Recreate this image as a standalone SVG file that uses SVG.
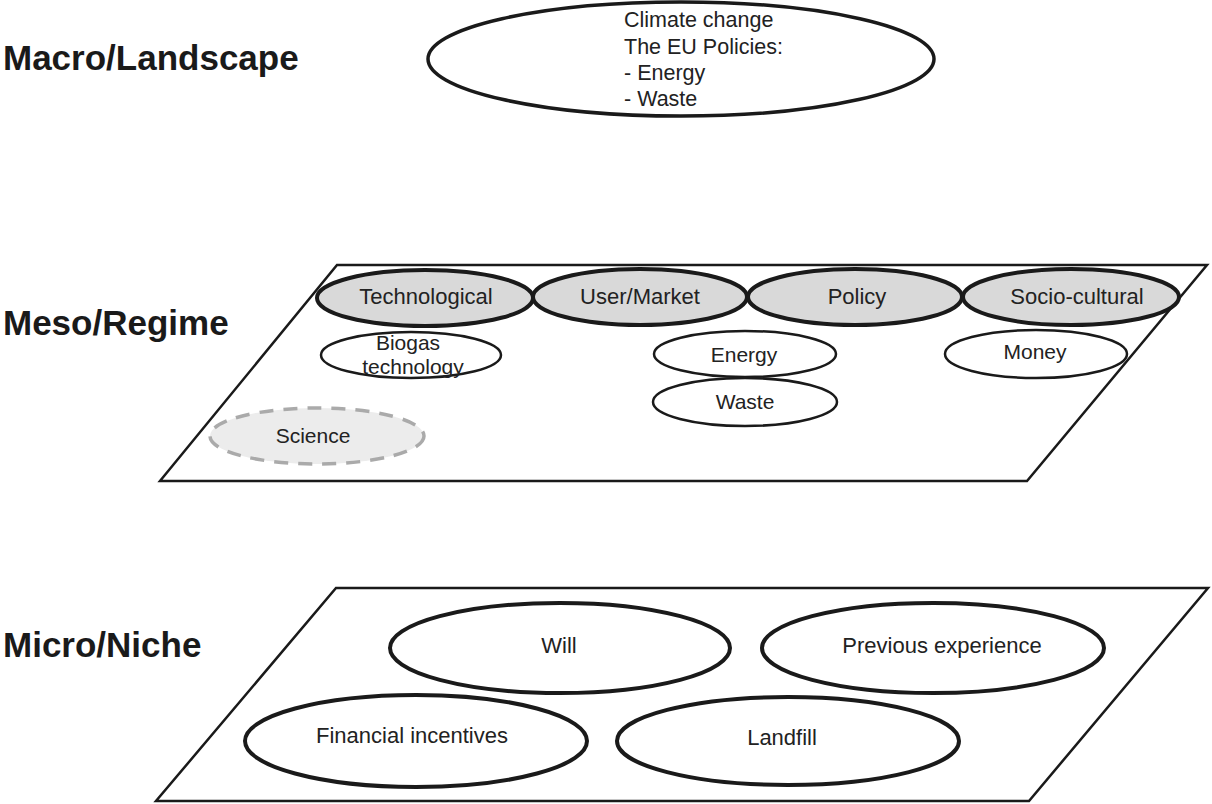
<svg xmlns="http://www.w3.org/2000/svg" width="1212" height="804" viewBox="0 0 1212 804">
<style>
  text { font-family: "Liberation Sans", Arial, sans-serif; fill: #222; }
  .lvl { font-size: 35px; font-weight: bold; fill: #1a1a1a; }
  .t { font-size: 21px; text-anchor: middle; }
  .tc { font-size: 22px; text-anchor: middle; }
  .tm { font-size: 22px; text-anchor: middle; }
  .plane { fill: #fff; stroke: #1a1a1a; stroke-width: 2.5; }
  .cat { fill: #d9d9d9; stroke: #1a1a1a; stroke-width: 4; }
  .sub { fill: none; stroke: #1a1a1a; stroke-width: 2.5; }
  .mic { fill: #fff; stroke: #1a1a1a; stroke-width: 4; }
  .sci { fill: #ececec; stroke: #aaaaaa; stroke-width: 3.5; stroke-dasharray: 14 10; }
</style>
<rect width="1212" height="804" fill="#fff"/>

<g id="labels">
  <text class="lvl" x="3" y="70">Macro/Landscape</text>
  <text class="lvl" x="3" y="335">Meso/Regime</text>
  <text class="lvl" x="3" y="657">Micro/Niche</text>
</g>

<g id="macro">
  <ellipse cx="681" cy="59" rx="253" ry="57" fill="#fff" stroke="#1a1a1a" stroke-width="3.5"/>
  <text x="624" y="27" font-size="21.5">Climate change</text>
  <text x="624" y="54" font-size="21.5">The EU Policies:</text>
  <text x="624" y="80" font-size="21.5">- Energy</text>
  <text x="624" y="106" font-size="21.5">- Waste</text>
</g>

<g id="meso-plane">
  <polygon class="plane" points="337,265 1207,265 1027,481 160,481"/>
</g>

<g id="technological">
  <ellipse class="cat" cx="425" cy="298" rx="108" ry="28"/>
  <text class="tc" x="426" y="304">Technological</text>
</g>
<g id="user-market">
  <ellipse class="cat" cx="640" cy="297" rx="107" ry="28"/>
  <text class="tc" x="640" y="304">User/Market</text>
</g>
<g id="policy">
  <ellipse class="cat" cx="855" cy="297" rx="107" ry="28"/>
  <text class="tc" x="857" y="304">Policy</text>
</g>
<g id="socio-cultural">
  <ellipse class="cat" cx="1071" cy="297" rx="108" ry="28"/>
  <text class="tc" x="1077" y="304">Socio-cultural</text>
</g>

<g id="biogas">
  <ellipse class="sub" cx="411" cy="355" rx="90" ry="23"/>
  <text class="t" x="408" y="350">Biogas</text>
  <text class="t" x="413" y="374">technology</text>
</g>
<g id="energy">
  <ellipse class="sub" cx="745" cy="354" rx="91" ry="23"/>
  <text class="t" x="744" y="362">Energy</text>
</g>
<g id="waste">
  <ellipse class="sub" cx="745" cy="402" rx="92" ry="24"/>
  <text class="t" x="745" y="409">Waste</text>
</g>
<g id="money">
  <ellipse class="sub" cx="1036" cy="354" rx="91" ry="24"/>
  <text class="t" x="1035" y="359">Money</text>
</g>
<g id="science">
  <ellipse class="sci" cx="317" cy="436" rx="107" ry="28"/>
  <text class="t" x="313" y="443">Science</text>
</g>

<g id="micro-plane">
  <polygon class="plane" points="336,588 1208,588 1029,801 156,801"/>
</g>
<g id="will">
  <ellipse class="mic" cx="560" cy="648" rx="170" ry="45"/>
  <text class="tm" x="559" y="653">Will</text>
</g>
<g id="previous-experience">
  <ellipse class="mic" cx="933" cy="648" rx="171" ry="45"/>
  <text class="tm" x="942" y="653">Previous experience</text>
</g>
<g id="financial-incentives">
  <ellipse class="mic" cx="416" cy="741" rx="171" ry="46"/>
  <text class="tm" x="412" y="743">Financial incentives</text>
</g>
<g id="landfill">
  <ellipse class="mic" cx="788" cy="741" rx="171" ry="44"/>
  <text class="tm" x="782" y="745">Landfill</text>
</g>

<g id="connectors"></g>
</svg>
